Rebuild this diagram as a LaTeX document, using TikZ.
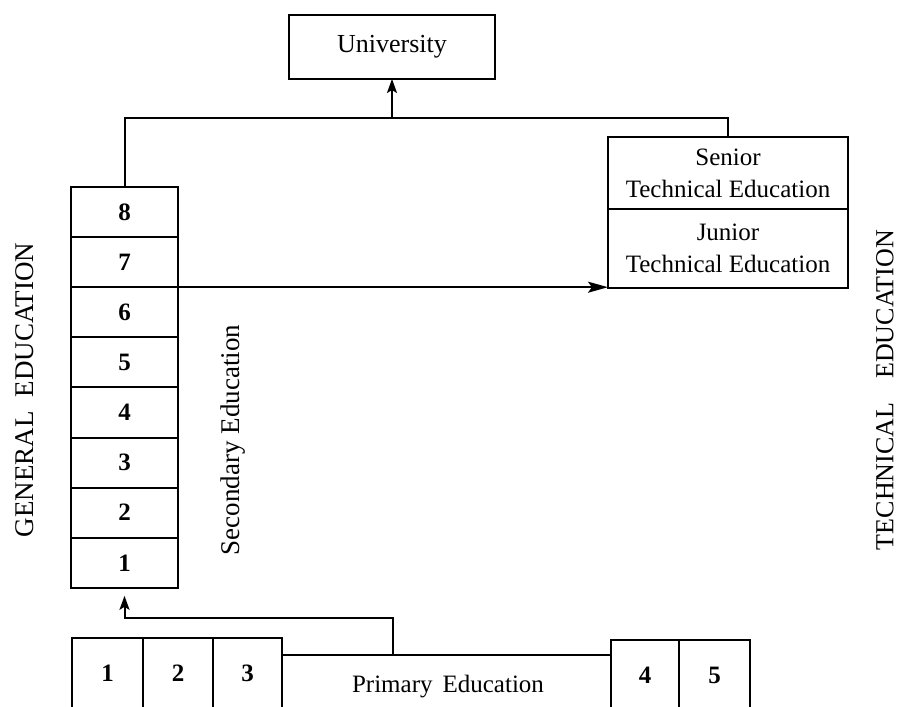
\documentclass[tikz,border=0pt]{standalone}
\usepackage{fontspec}
\setmainfont{Liberation Serif}
\usetikzlibrary{arrows.meta,calc}
\begin{document}
\begin{tikzpicture}[x=1pt,y=-1pt,
  every node/.style={inner sep=0pt, outer sep=0pt},
  ln/.style={line width=2pt},
  arr/.style={line width=2pt, -{Stealth[length=14pt,width=10pt,inset=3pt]}},
  longarr/.style={line width=2pt, -{Stealth[length=20pt,width=11pt,inset=4pt]}},
  ubox/.style={draw, line width=2pt, minimum width=206pt, minimum height=64pt, font=\fontsize{26}{26}\selectfont},
  cell/.style={draw, line width=2pt, minimum width=107pt, minimum height=50.1pt, font=\fontsize{25}{25}\selectfont\bfseries},
  tbox/.style={draw, line width=2pt, minimum width=240pt, align=center, font=\fontsize{25}{32}\selectfont},
  pcell/.style={draw, line width=2pt, minimum height=70pt, font=\fontsize{25}{25}\selectfont\bfseries},
  lab/.style={font=\fontsize{27}{27}\selectfont}
]
\useasboundingbox (0,0) rectangle (900,707);
\clip (0,0) rectangle (900,707);

% University
\node[ubox] (univ) at (392,47) {University};

% Secondary column
\foreach \i in {1,...,8} {
  \node[cell] (c\i) at (124.5,{187+50.1*(8-\i)+25.05}) {\i};
}

% Technical boxes
\node[tbox, minimum height=72pt] (senior) at (728,173) {Senior\\Technical Education};
\node[tbox, minimum height=79pt] (junior) at (728,248.5) {Junior\\Technical Education};

% Primary boxes
\node[pcell, minimum width=71pt] (p1) at (107.5,673) {1};
\node[pcell, minimum width=70pt] (p2) at (178,673) {2};
\node[pcell, minimum width=69pt] (p3) at (247.5,673) {3};
\node[pcell, minimum width=68pt] (p4) at (645,675) {4};
\node[pcell, minimum width=71pt] (p5) at (714.5,675) {5};

\coordinate (pl) at (282,655);
\coordinate (pr) at (611,655);
\coordinate (pm) at (393,655);
\draw[ln] (pl) -- (pr);
\draw[arr, shorten >=8pt] (pm) -- ++(0,-37) -| (c1.south);

% Top connectors
\coordinate (tl) at (124.5,118);
\draw[ln] (c8.north) -- (tl) -- (tl -| senior.north) -- (senior.north);
\draw[arr] (tl -| univ.south) -- (univ.south);
\draw[longarr] (c7.south east) -- (c7.south east -| junior.west);

% Labels
\node[lab, rotate=90] (gen) at (25,390) {GENERAL\hspace{14pt}EDUCATION};
\node[lab, rotate=90, font=\fontsize{26}{26}\selectfont] (tech) at (885,390) {TECHNICAL\hspace{24pt}EDUCATION};
\node[lab, rotate=90] (sec) at (233,440) {Secondary Education};
\node[font=\fontsize{25}{25}\selectfont] (prim) at (448,687) {Primary\hspace{10pt}Education};
\end{tikzpicture}
\end{document}
